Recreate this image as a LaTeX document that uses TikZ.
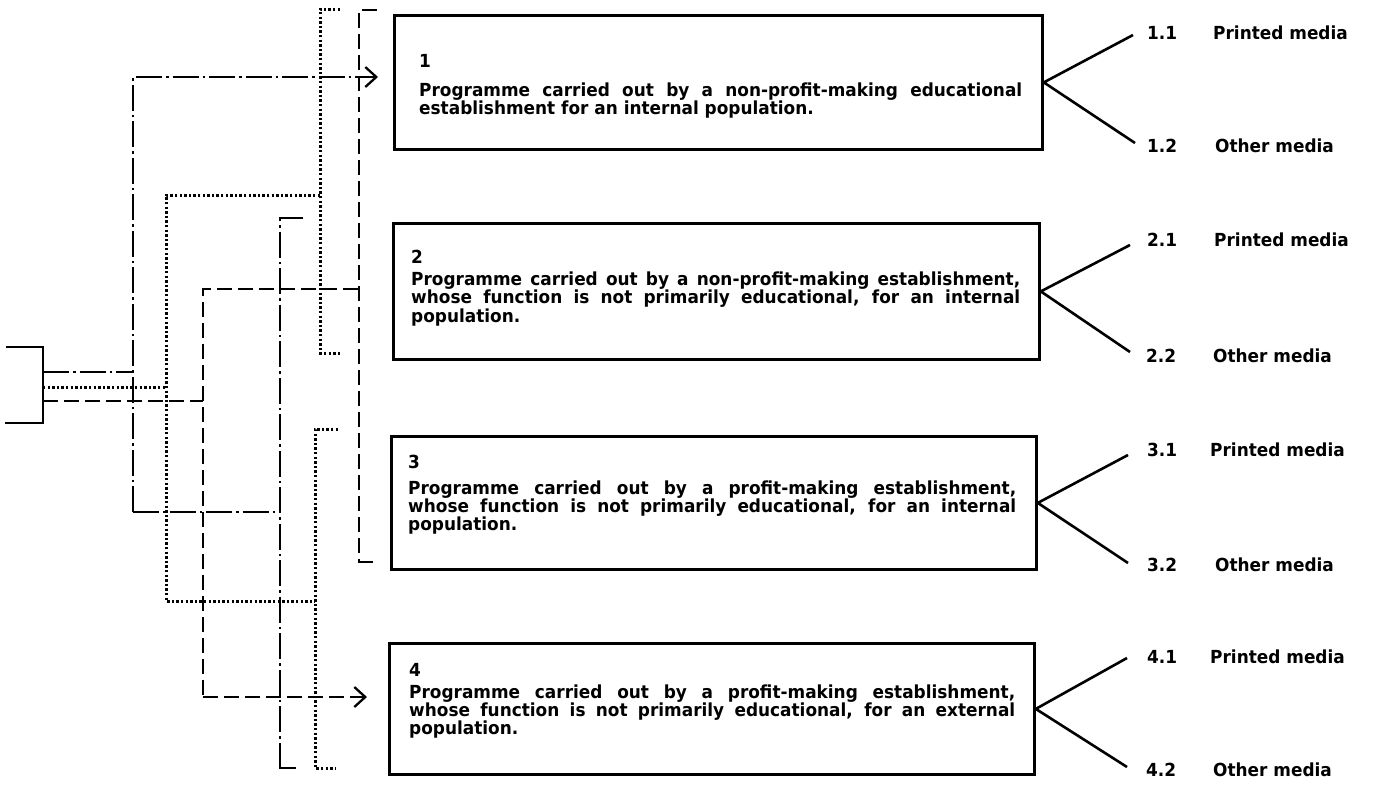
\documentclass[tikz,border=0pt]{standalone}
\usepackage{fontspec}
\setmainfont{DejaVu Sans}[FakeStretch=0.94]
\usetikzlibrary{arrows.meta}
\newlength\tw
\newcommand\jl[1]{\hbox to \tw{#1}}
\begin{document}
\begin{tikzpicture}[x=1pt,y=-1pt,
  boxst/.style={draw, line width=2.8pt, rectangle, inner sep=0pt, anchor=north west},
  fan/.style={line width=2.6pt},
  ddash/.style={line width=2.5pt, dash pattern=on 26pt off 4pt on 2.5pt off 4pt},
  ddot/.style={line width=3pt, dash pattern=on 2.4pt off 2.2pt},
  dshd/.style={line width=2.5pt, dash pattern=on 15pt off 6pt},
  tip/.style={-{Straight Barb[length=11pt,width=20pt,line width=2.3pt]}},
  lab/.style={font=\fontsize{18}{19}\selectfont\bfseries, anchor=base west, inner sep=0pt},
  txt/.style={font=\fontsize{18}{18.5}\selectfont\bfseries, anchor=base west, inner sep=0pt}]
\useasboundingbox (0,0) rectangle (1373,785);

% boxes
\node[boxst, minimum width=648pt, minimum height=134pt] (b1) at (393,14) {};
\node[boxst, minimum width=646pt, minimum height=136pt] (b2) at (392,222) {};
\node[boxst, minimum width=645pt, minimum height=133pt] (b3) at (390,435) {};
\node[boxst, minimum width=645pt, minimum height=131pt] (b4) at (388,642) {};

% box texts
\node[txt] (t1) at (419,67) {\vtop{\setlength\tw{603pt}\hsize=\tw\parindent=0pt\baselineskip=18.5pt
\hbox{1}\vskip 10.5pt
\jl{Programme carried out by a non-profit-making educational}
\hbox{establishment for an internal population.}}};
\node[txt] (t2) at (411,263) {\vtop{\setlength\tw{609pt}\hsize=\tw\parindent=0pt\baselineskip=18.5pt
\hbox{2}\vskip 3.5pt
\jl{Programme carried out by a non-profit-making establishment,}
\jl{whose function is not primarily educational, for an internal}
\hbox{population.}}};
\node[txt] (t3) at (408,468) {\vtop{\setlength\tw{608pt}\hsize=\tw\parindent=0pt\baselineskip=18pt
\hbox{3}\vskip 8pt
\jl{Programme carried out by a profit-making establishment,}
\jl{whose function is not primarily educational, for an internal}
\hbox{population.}}};
\node[txt] (t4) at (409,676) {\vtop{\setlength\tw{606pt}\hsize=\tw\parindent=0pt\baselineskip=18pt
\hbox{4}\vskip 4pt
\jl{Programme carried out by a profit-making establishment,}
\jl{whose function is not primarily educational, for an external}
\hbox{population.}}};

% fan end points
\coordinate (f11) at (1133,35);  \coordinate (f12) at (1135,143);
\coordinate (f21) at (1130,245); \coordinate (f22) at (1130,352);
\coordinate (f31) at (1128,455); \coordinate (f32) at (1128,563);
\coordinate (f41) at (1127,658); \coordinate (f42) at (1127,767);
\draw[fan] (f11) -- (b1.east) -- (f12);
\draw[fan] (f21) -- (b2.east) -- (f22);
\draw[fan] (f31) -- (b3.east) -- (f32);
\draw[fan] (f41) -- (b4.east) -- (f42);

% media labels
\node[lab] (n11) at (1147,39) {1.1};  \node[lab] (m11) at (1213,39) {Printed media};
\node[lab] (n12) at (1147,152) {1.2}; \node[lab] (m12) at (1215,152) {Other media};
\node[lab] (n21) at (1147,246) {2.1}; \node[lab] (m21) at (1214,246) {Printed media};
\node[lab] (n22) at (1146,362) {2.2}; \node[lab] (m22) at (1213,362) {Other media};
\node[lab] (n31) at (1147,456) {3.1}; \node[lab] (m31) at (1210,456) {Printed media};
\node[lab] (n32) at (1147,571) {3.2}; \node[lab] (m32) at (1215,571) {Other media};
\node[lab] (n41) at (1147,663) {4.1}; \node[lab] (m41) at (1210,663) {Printed media};
\node[lab] (n42) at (1146,776) {4.2}; \node[lab] (m42) at (1213,776) {Other media};

% source box
\draw[line width=2.6pt] (6,347) -- (43,347) -- (43,423) -- (5,423);
\coordinate (sA) at (43,372);
\coordinate (sB) at (43,387);
\coordinate (sC) at (43,401);

% arrow targets
\coordinate (a1) at (378,77);
\coordinate (a4) at (367,697);

% dash-dot: educational vs not
\draw[ddash] (sA) -- (133,372);
\draw[ddash,tip] (133,512) -- (133,77) -- (a1);
\draw[ddash] (133,512) -- (280,512);
\draw[ddash] (303,218) -- (280,218) -- (280,768);
\draw[ddash] (296,768) -- (279,768);

% dotted: non-profit vs profit
\draw[ddot] (sB) -- (166,387);
\draw[ddot] (320,195) -- (166,195) -- (166,601) -- (315,601);
\draw[ddot] (340,9) -- (320,9) -- (320,353) -- (340,353);
\draw[ddot] (338,429) -- (315,429) -- (315,768) -- (336,768);

% dashed: internal vs external
\draw[dshd] (sC) -- (203,401);
\draw[dshd] (358,289) -- (203,289) -- (203,697);
\draw[dshd,tip] (203,697) -- (a4);
\draw[dshd] (377,10) -- (359,10) -- (359,562);
\draw[dshd] (373,562) -- (358,562);
\end{tikzpicture}
\end{document}
